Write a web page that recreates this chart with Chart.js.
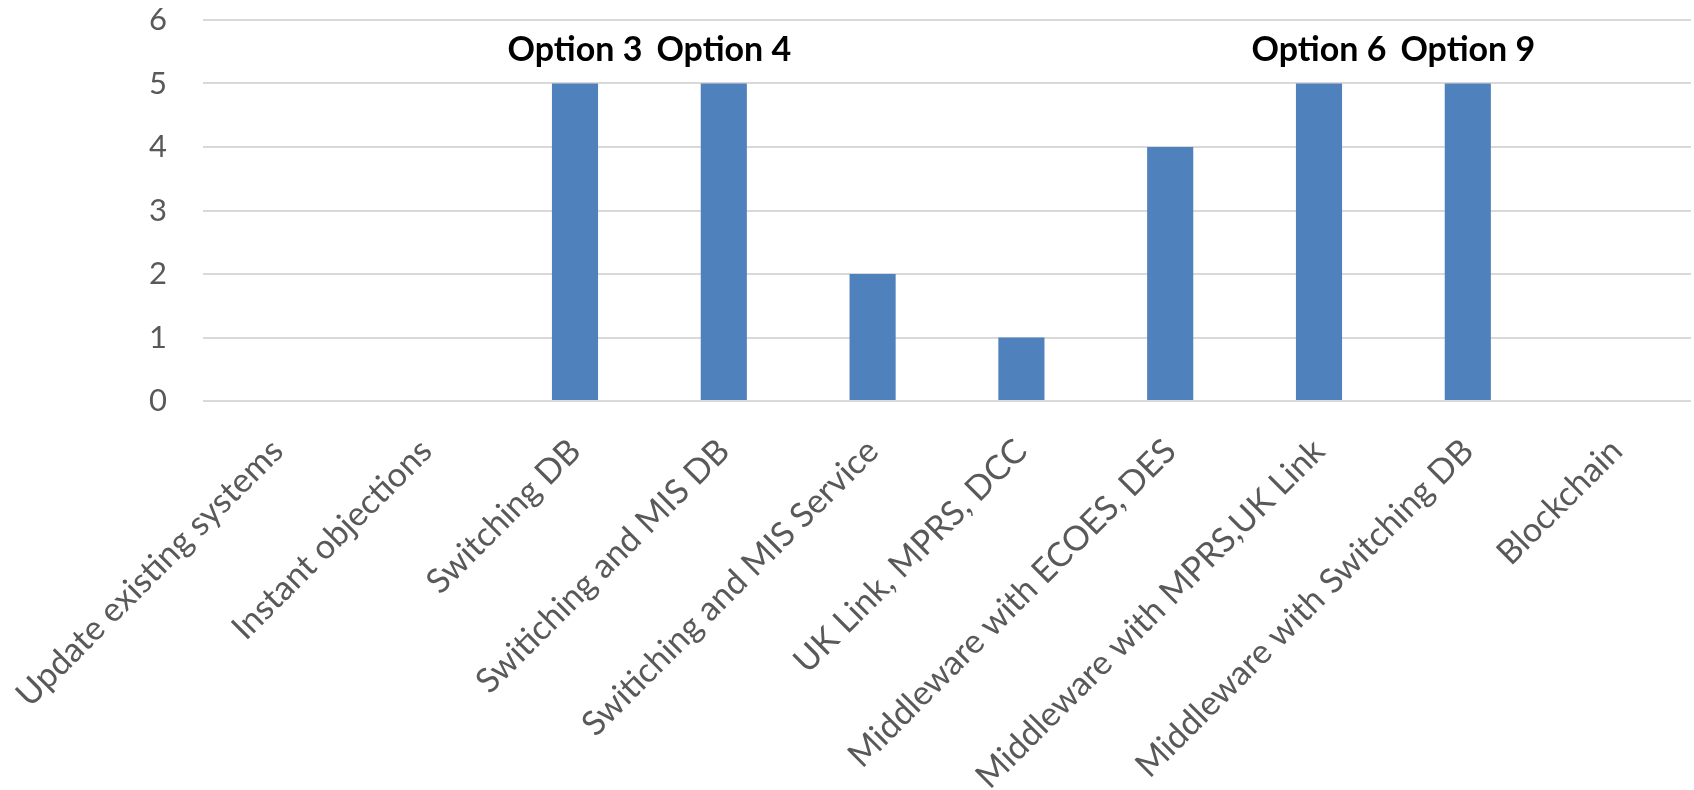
<!DOCTYPE html>
<html>
<head>
<meta charset="utf-8">
<script src="https://cdn.jsdelivr.net/npm/chart.js@4/dist/chart.umd.min.js"></script>
<style>
html,body{margin:0;padding:0;background:#fff;}
#wrap{width:1694px;height:790px;position:relative;}
</style>
</head>
<body>
<div id="wrap"><canvas id="c" width="1694" height="790"></canvas></div>
<script>
const categories = [
  "Update existing systems",
  "Instant objections",
  "Switching DB",
  "Switiching and MIS DB",
  "Switiching and MIS Service",
  "UK Link, MPRS, DCC",
  "Middleware with ECOES, DES",
  "Middleware with MPRS,UK Link",
  "Middleware with Switching DB",
  "Blockchain"
];
const values = [0, 0, 5, 5, 2, 1, 4, 5, 5, 0];
const optionLabels = ["", "", "Option 3", "Option 4", "", "", "", "Option 6", "Option 9", ""];
const yTicks = [0, 1, 2, 3, 4, 5, 6];

const FONT = "Lato, 'Open Sans', sans-serif";

const optionPlugin = {
  id: 'optionLabels',
  afterDatasetsDraw(chart) {
    const ctx = chart.ctx;
    const xs = chart.scales.x, ys = chart.scales.y;
    ctx.save();
    ctx.font = "bold 34px " + FONT;
    ctx.fillStyle = "#000";
    ctx.textAlign = "center";
    ctx.textBaseline = "alphabetic";
    optionLabels.forEach((t, i) => {
      if (!t) return;
      const x = xs.getPixelForValue(i);
      const y = ys.getPixelForValue(values[i]) - 23;
      ctx.fillText(t, x, y);
    });
    ctx.restore();
  }
};

new Chart(document.getElementById('c'), {
  type: 'bar',
  data: {
    labels: categories,
    datasets: [{
      data: values,
      backgroundColor: '#4f81bd',
      borderWidth: 0,
      categoryPercentage: 1.0,
      barPercentage: 0.31
    }]
  },
  options: {
    responsive: false,
    animation: false,
    layout: { padding: { top: 20, right: 3, left: 0, bottom: 0 } },
    plugins: { legend: { display: false }, tooltip: { enabled: false } },
    scales: {
      x: {
        grid: { display: false },
        border: { display: false },
        ticks: {
          color: '#595959',
          font: { family: FONT, size: 34 },
          maxRotation: 45,
          minRotation: 45,
          autoSkip: false,
          padding: 22
        },
        afterFit(scale) {
          scale.height = 389;
          scale.paddingLeft = 0;
          scale.paddingRight = 0;
        }
      },
      y: {
        min: 0,
        max: 6,
        afterBuildTicks(scale) { scale.ticks = yTicks.map(v => ({ value: v })); },
        grid: { color: '#d9d9d9', lineWidth: 2, drawTicks: false },
        border: { display: false },
        ticks: {
          color: '#595959',
          font: { family: FONT, size: 31 },
          padding: 36
        },
        afterFit(scale) {
          scale.width = 203;
          scale.paddingTop = 0;
          scale.paddingBottom = 0;
        }
      }
    }
  },
  plugins: [optionPlugin]
});
</script>
</body>
</html>
